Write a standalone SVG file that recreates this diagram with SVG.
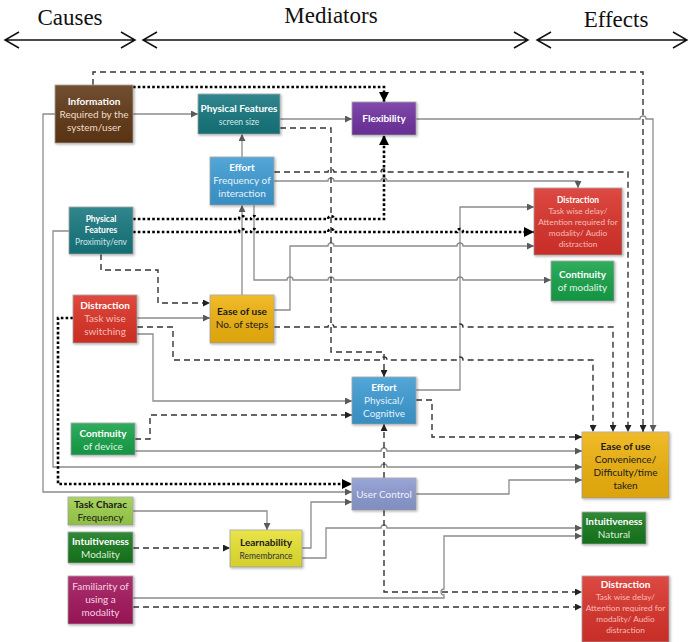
<svg xmlns="http://www.w3.org/2000/svg" width="688" height="642" viewBox="0 0 688 642">
<defs>
<linearGradient id="sheen" x1="0" y1="0" x2="0" y2="1">
<stop offset="0" stop-color="#fff" stop-opacity="0.12"/>
<stop offset="1" stop-color="#000" stop-opacity="0.08"/>
</linearGradient>
<filter id="sh" x="-10%" y="-10%" width="130%" height="130%">
<feDropShadow dx="1.2" dy="1.2" stdDeviation="0.8" flood-color="#000" flood-opacity="0.3"/>
</filter>
<marker id="ag" viewBox="0 0 10 10" refX="10" refY="5" markerWidth="7" markerHeight="7" markerUnits="userSpaceOnUse" orient="auto"><path d="M0,0 L10,5 L0,10z" fill="#5a5a5a"/></marker>
<marker id="ak" viewBox="0 0 10 10" refX="10" refY="5" markerWidth="7" markerHeight="7" markerUnits="userSpaceOnUse" orient="auto"><path d="M0,0 L10,5 L0,10z" fill="#222"/></marker>
<marker id="ad" viewBox="0 0 10 10" refX="10" refY="5" markerWidth="10" markerHeight="10" markerUnits="userSpaceOnUse" orient="auto"><path d="M0,0 L10,5 L0,10z" fill="#000"/></marker>
</defs>
<style>
.title{font-family:"Liberation Serif","Times New Roman",serif;font-size:23px;fill:#111;text-anchor:middle}
.hdr{fill:none;stroke:#111;stroke-width:1.5}
.box{stroke:#a3a3a3;stroke-width:0.8;filter:url(#sh)}
.sheen{fill:url(#sheen)}
.node text{font-family:Lato,"Open Sans",sans-serif;font-size:10px;text-anchor:middle}
.node .b{font-weight:bold;fill:#fff}
.node .sm{font-size:8.5px}
.node .xs{font-size:8.3px}
.node .dk{fill:#1a1a1a}
.node .pk{fill:#f6bcb4}
.sl{fill:none;stroke:#8c8c8c;stroke-width:1.3;marker-end:url(#ag)}
.dl{fill:none;stroke:#333;stroke-width:1.4;stroke-dasharray:6 4;marker-end:url(#ak)}
.tl{fill:none;stroke:#000;stroke-width:2.6;stroke-dasharray:2.6 2.2;marker-end:url(#ad)}
</style>
<rect width="688" height="642" fill="#fff"/>
<g id="header">
<text class="title" x="70" y="25">Causes</text>
<text class="title" x="331" y="23">Mediators</text>
<text class="title" x="616" y="27">Effects</text>
<path class="hdr" d="M5,40 H135 M19,32 L5,40 L19,48 M121,32 L135,40 L121,48"/>
<path class="hdr" d="M143,40 H528 M157,32 L143,40 L157,48 M514,32 L528,40 L514,48"/>
<path class="hdr" d="M537,40 H687 M551,32 L537,40 L551,48 M673,32 L687,40 L673,48"/>
</g>
<g id="connectors">
<path class="sl" d="M133,114 H198"/>
<path class="sl" d="M55,114 H43 V492 H352"/>
<path class="sl" d="M280,119 H352"/>
<path class="sl" d="M416,119 H640 a3,3 0 0 1 6,0 H653 V432"/>
<path class="sl" d="M242,157 V134"/>
<path class="sl" d="M242,295 V205"/>
<path class="sl" d="M274,181 H328 a3,3 0 0 1 6,0 H381 a3,3 0 0 1 6,0 H578 V188"/>
<path class="sl" d="M254,205 V280 H287 a3,3 0 0 1 6,0 H328 a3,3 0 0 1 6,0 H457 a3,3 0 0 1 6,0 H551"/>
<path class="sl" d="M274,310 H290 V246 H328 a3,3 0 0 1 6,0 H457 a3,3 0 0 1 6,0 H534"/>
<path class="sl" d="M416,390 H460 V207 H534"/>
<path class="sl" d="M69,231 H53 V467 H381 a3,3 0 0 1 6,0 H582"/>
<path class="sl" d="M137,318 H210"/>
<path class="sl" d="M137,334 H153 V401 H352"/>
<path class="sl" d="M135,451 H381 a3,3 0 0 1 6,0 H582"/>
<path class="sl" d="M416,494 H509 V480 H582"/>
<path class="sl" d="M133,511 H267 V530"/>
<path class="sl" d="M302,548 H311 V502 H352"/>
<path class="sl" d="M302,558 H326 V528 H381 a3,3 0 0 1 6,0 H582"/>
<path class="sl" d="M133,598 H444 V595 a3,3 0 0 1 0,-6 V536 H582"/>
<path class="dl" d="M93,85 V72 H643 V432"/>
<path class="dl" d="M101,254 V270 H158 V303 H210"/>
<path class="dl" d="M137,327 H173 V360 H381 a3,3 0 0 1 6,0 H457 a3,3 0 0 1 6,0 H593 V432"/>
<path class="dl" d="M274,327 H328 a3,3 0 0 1 6,0 H457 a3,3 0 0 1 6,0 H613 V432"/>
<path class="dl" d="M274,172 H328 a3,3 0 0 1 6,0 H381 a3,3 0 0 1 6,0 H628 V432"/>
<path class="dl" d="M280,128 H331 V352 H384 V377"/>
<path class="dl" d="M416,400 H432 V437 H582"/>
<path class="dl" d="M135,439 H150 V415 H352"/>
<path class="dl" d="M133,548 H230"/>
<path class="dl" d="M384,478 V424"/>
<path class="dl" d="M384,510 V592 H582"/>
<path class="dl" d="M133,607 H582"/>
<path class="tl" d="M133,87 H384 V102"/>
<path class="tl" d="M133,219 H239 a3,3 0 0 1 6,0 H251 a3,3 0 0 1 6,0 H328 a3,3 0 0 1 6,0 H384 V135"/>
<path class="tl" d="M133,232 H239 a3,3 0 0 1 6,0 H251 a3,3 0 0 1 6,0 H328 a3,3 0 0 1 6,0 H457 a3,3 0 0 1 6,0 H534"/>
<path class="tl" d="M73,318 H58 V484 H352"/>
</g>
<g id="n-information" class="node"><rect class="box" x="55" y="85" width="78" height="58" fill="#603813"/><rect class="sheen" x="55" y="85" width="78" height="58"/>
<text class="b" x="94" y="105">Information</text><text x="94" y="118" fill="#f0dcc8">Required by the</text><text x="94" y="131" fill="#f0dcc8">system/user</text></g>
<g id="n-physical-screen" class="node"><rect class="box" x="198" y="94" width="82" height="40" fill="#12777e"/><rect class="sheen" x="198" y="94" width="82" height="40"/>
<text class="b" x="239" y="112">Physical Features</text><text class="sm" x="239" y="125" fill="#cfe6e8">screen size</text></g>
<g id="n-flexibility" class="node"><rect class="box" x="352" y="102" width="64" height="33" fill="#7030a0"/><rect class="sheen" x="352" y="102" width="64" height="33"/>
<text class="b" x="384" y="122">Flexibility</text></g>
<g id="n-effort-frequency" class="node"><rect class="box" x="210" y="157" width="64" height="48" fill="#3d9bd3"/><rect class="sheen" x="210" y="157" width="64" height="48"/>
<text class="b" x="242" y="171">Effort</text><text x="242" y="184" fill="#e3f1fb">Frequency of</text><text x="242" y="197" fill="#e3f1fb">interaction</text></g>
<g id="n-physical-proximity" class="node"><rect class="box" x="69" y="207" width="64" height="47" fill="#12777e"/><rect class="sheen" x="69" y="207" width="64" height="47"/>
<text class="b sm" x="101" y="222">Physical</text><text class="b sm" x="101" y="233">Features</text><text class="sm" x="101" y="245" fill="#cfe6e8">Proximity/env</text></g>
<g id="n-distraction-delay-top" class="node"><rect class="box" x="534" y="188" width="88" height="67" fill="#d9302a"/><rect class="sheen" x="534" y="188" width="88" height="67"/>
<text class="b sm" x="578" y="203">Distraction</text><text class="xs pk" x="578" y="214">Task wise delay/</text><text class="xs pk" x="578" y="225">Attention required for</text><text class="xs pk" x="578" y="236">modality/ Audio</text><text class="xs pk" x="578" y="247">distraction</text></g>
<g id="n-continuity-modality" class="node"><rect class="box" x="551" y="261" width="63" height="40" fill="#16a24a"/><rect class="sheen" x="551" y="261" width="63" height="40"/>
<text class="b" x="582.5" y="278">Continuity</text><text x="582.5" y="291" fill="#e0f5e6">of modality</text></g>
<g id="n-distraction-switching" class="node"><rect class="box" x="73" y="295" width="64" height="48" fill="#dc3128"/><rect class="sheen" x="73" y="295" width="64" height="48"/>
<text class="b" x="105" y="309">Distraction</text><text class="pk" x="105" y="322">Task wise</text><text class="pk" x="105" y="335">switching</text></g>
<g id="n-ease-steps" class="node"><rect class="box" x="210" y="295" width="64" height="48" fill="#efb20f"/><rect class="sheen" x="210" y="295" width="64" height="48"/>
<text class="b dk" x="242" y="315">Ease of use</text><text class="dk" x="242" y="328">No. of steps</text></g>
<g id="n-effort-physical" class="node"><rect class="box" x="352" y="377" width="64" height="47" fill="#3d9bd3"/><rect class="sheen" x="352" y="377" width="64" height="47"/>
<text class="b" x="384" y="391">Effort</text><text x="384" y="404" fill="#e3f1fb">Physical/</text><text x="384" y="417" fill="#e3f1fb">Cognitive</text></g>
<g id="n-continuity-device" class="node"><rect class="box" x="71" y="423" width="64" height="32" fill="#16a24a"/><rect class="sheen" x="71" y="423" width="64" height="32"/>
<text class="b" x="103" y="437">Continuity</text><text x="103" y="450" fill="#e0f5e6">of device</text></g>
<g id="n-ease-convenience" class="node"><rect class="box" x="582" y="432" width="87" height="66" fill="#efb20f"/><rect class="sheen" x="582" y="432" width="87" height="66"/>
<text class="b dk" x="625.5" y="450">Ease of use</text><text class="dk" x="625.5" y="463">Convenience/</text><text class="dk" x="625.5" y="476">Difficulty/time</text><text class="dk" x="625.5" y="489">taken</text></g>
<g id="n-user-control" class="node"><rect class="box" x="352" y="478" width="64" height="32" fill="#8c9ad1"/><rect class="sheen" x="352" y="478" width="64" height="32"/>
<text x="384" y="498" fill="#eef1fa">User Control</text></g>
<g id="n-task-charac" class="node"><rect class="box" x="68" y="497" width="65" height="28" fill="#9dcf4c"/><rect class="sheen" x="68" y="497" width="65" height="28"/>
<text class="b dk" x="100.5" y="508">Task Charac</text><text class="dk" x="100.5" y="521">Frequency</text></g>
<g id="n-intuitiveness-modality" class="node"><rect class="box" x="68" y="532" width="65" height="31" fill="#13791e"/><rect class="sheen" x="68" y="532" width="65" height="31"/>
<text class="b" x="100.5" y="545">Intuitiveness</text><text x="100.5" y="558" fill="#dcefdc">Modality</text></g>
<g id="n-learnability" class="node"><rect class="box" x="230" y="530" width="72" height="37" fill="#e7e232"/><rect class="sheen" x="230" y="530" width="72" height="37"/>
<text class="b dk" x="266" y="546">Learnability</text><text class="sm" x="266" y="559" fill="#333">Remembrance</text></g>
<g id="n-intuitiveness-natural" class="node"><rect class="box" x="582" y="512" width="64" height="32" fill="#13791e"/><rect class="sheen" x="582" y="512" width="64" height="32"/>
<text class="b" x="614" y="525">Intuitiveness</text><text x="614" y="538" fill="#dcefdc">Natural</text></g>
<g id="n-familiarity" class="node"><rect class="box" x="68" y="576" width="65" height="48" fill="#a3155b"/><rect class="sheen" x="68" y="576" width="65" height="48"/>
<text x="100.5" y="590" fill="#f3d3e2">Familiarity of</text><text x="100.5" y="603" fill="#f3d3e2">using a</text><text x="100.5" y="616" fill="#f3d3e2">modality</text></g>
<g id="n-distraction-delay-bottom" class="node"><rect class="box" x="582" y="576" width="87" height="66" fill="#d9302a"/><rect class="sheen" x="582" y="576" width="87" height="66"/>
<text class="b" x="625.5" y="588">Distraction</text><text class="xs pk" x="625.5" y="600">Task wise delay/</text><text class="xs pk" x="625.5" y="611">Attention required for</text><text class="xs pk" x="625.5" y="622">modality/ Audio</text><text class="xs pk" x="625.5" y="633">distraction</text></g>
</svg>
